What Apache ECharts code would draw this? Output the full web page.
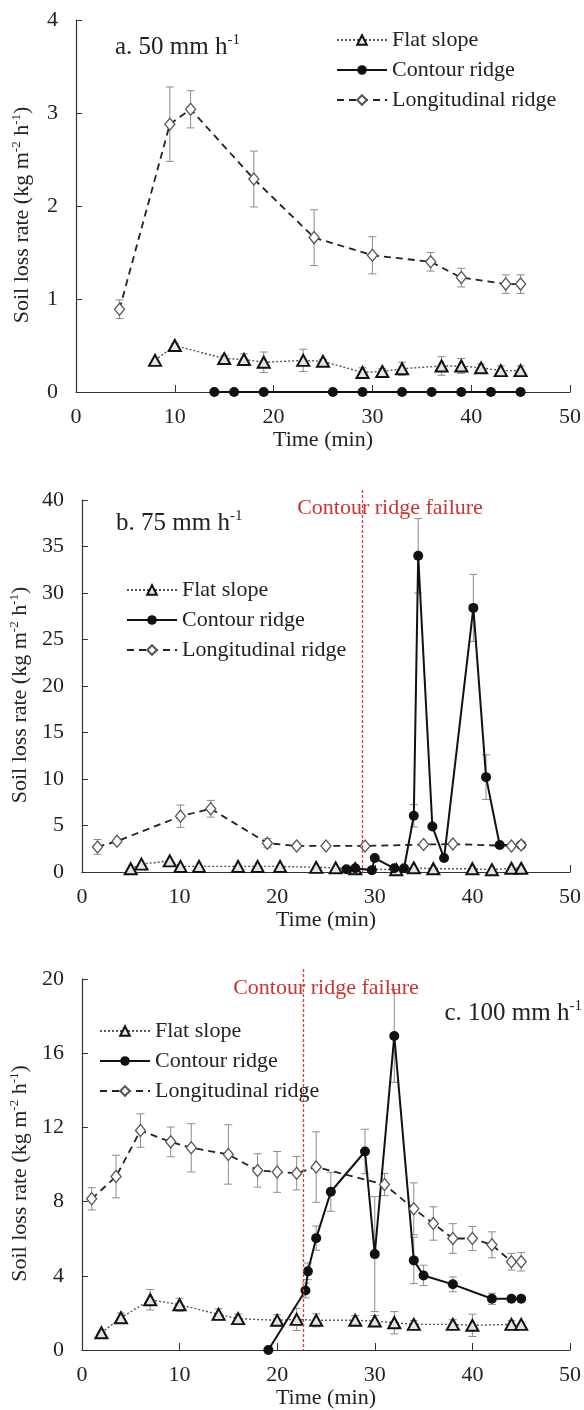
<!DOCTYPE html>
<html><head><meta charset="utf-8">
<script src="https://cdn.jsdelivr.net/npm/echarts@6/dist/echarts.min.js"></script>
<style>html,body{margin:0;padding:0;background:#fff}#c{width:584px;height:1410px}</style>
</head><body><div id="c"></div>
<script>
// ---------- Data ----------
const seriesNames = ['Flat slope', 'Contour ridge', 'Longitudinal ridge'];
const xTicks = [0, 10, 20, 30, 40, 50];

// Panel a (50 mm h-1)
const aFlatX = [8, 10, 15, 17, 19, 23, 25, 29, 31, 33, 37, 39, 41, 43, 45];
const aFlatY = [0.34, 0.50, 0.36, 0.35, 0.32, 0.34, 0.33, 0.21, 0.22, 0.25, 0.28, 0.28, 0.26, 0.23, 0.23];
const aFlatE = [0, 0.02, 0.03, 0.06, 0.11, 0.12, 0.02, 0.05, 0.03, 0.07, 0.10, 0.08, 0.04, 0.05, 0.05];
const aContX = [14, 16, 19, 26, 29, 33, 36, 39, 42, 45];
const aContY = [0, 0, 0, 0, 0, 0, 0, 0, 0, 0];
const aContE = [0, 0, 0, 0, 0, 0, 0, 0, 0, 0];
const aLongX = [4.4, 9.5, 11.6, 18, 24.1, 30, 35.9, 39, 43.5, 45];
const aLongY = [0.89, 2.88, 3.04, 2.29, 1.66, 1.47, 1.40, 1.23, 1.16, 1.16];
const aLongE = [0.10, 0.40, 0.20, 0.30, 0.30, 0.20, 0.10, 0.10, 0.10, 0.10];

// Panel b (75 mm h-1)
const bFlatX = [5, 6.1, 9, 10.1, 12, 16, 18, 20.3, 24, 26, 28, 32.2, 34, 36, 40, 42, 44, 45];
const bFlatY = [0.35, 0.85, 1.2, 0.6, 0.6, 0.6, 0.6, 0.6, 0.5, 0.45, 0.35, 0.25, 0.45, 0.35, 0.35, 0.25, 0.4, 0.4];
const bFlatE = [0, 0, 0, 0, 0, 0, 0, 0, 0, 0, 0, 0, 0, 0, 0, 0, 0, 0];
const bContX = [27.1, 28, 29.7, 30, 32, 33, 34, 34.45, 35.9, 37.1, 40.1, 41.4, 42.8, 45];
const bContY = [0.3, 0.4, 0.2, 1.5, 0.4, 0.4, 6.05, 34.0, 4.9, 1.5, 28.4, 10.2, 2.9, 2.9];
const bContE = [0, 0, 0, 0, 0, 0, 1.2, 4.0, 0, 0, 3.6, 2.4, 0, 0];
const bLongX = [1.6, 3.6, 10.1, 13.2, 19, 22, 25, 29, 35, 38, 44, 45];
const bLongY = [2.7, 3.3, 6.0, 6.8, 3.1, 2.8, 2.8, 2.8, 2.95, 3.0, 2.8, 2.9];
const bLongE = [0.8, 0, 1.2, 0.9, 0.5, 0.3, 0, 0, 0, 0, 0, 0];
const bFailure = 28.7;

// Panel c (100 mm h-1)
const cFlatX = [2, 4, 7, 10, 14, 16, 20, 22, 24, 28, 30, 32, 34, 38, 40, 44, 45];
const cFlatY = [0.93, 1.74, 2.71, 2.44, 1.92, 1.69, 1.6, 1.65, 1.6, 1.6, 1.56, 1.47, 1.38, 1.38, 1.33, 1.38, 1.38];
const cFlatE = [0, 0.25, 0.55, 0.35, 0.3, 0.25, 0.3, 0.6, 0.35, 0.25, 0.3, 0.6, 0.2, 0.25, 0.6, 0.2, 0];
const cContX = [19.1, 22.9, 23.15, 24, 25.5, 29, 30, 32, 34, 35, 38, 42, 44, 45];
const cContY = [0, 3.21, 4.24, 6.03, 8.53, 10.7, 5.17, 16.93, 4.83, 4.02, 3.54, 2.76, 2.76, 2.76];
const cContE = [0, 0.4, 0.45, 0.65, 1.05, 1.2, 3.1, 2.5, 1.25, 0.55, 0.4, 0.3, 0, 0];
const cLongX = [1, 3.5, 6, 9.1, 11.2, 15, 18, 20, 22, 24, 31, 34, 36, 38, 40, 42, 44, 45];
const cLongY = [8.15, 9.35, 11.83, 11.22, 10.9, 10.54, 9.68, 9.6, 9.53, 9.86, 8.92, 7.61, 6.82, 6.01, 6.01, 5.67, 4.76, 4.76];
const cLongE = [0.6, 1.15, 0.9, 0.8, 1.3, 1.6, 0.9, 1.1, 0.9, 1.9, 0.6, 1.4, 0.9, 0.8, 0.65, 0.7, 0.45, 0.5];
const cFailure = 22.7;

const yMaxes = [4, 40, 20];
const yIntervals = [1, 5, 4];

// ---------- Chart ----------
const FONT = 'Liberation Serif';
const zip = (xs, ys) => xs.map((x, i) => [x, ys[i]]);
const errData = (xs, ys, es) => xs.map((x, i) => [x, ys[i] - es[i], ys[i] + es[i], es[i]]).filter(d => d[3] > 0);

const panels = [
  {flat: [aFlatX, aFlatY, aFlatE], cont: [aContX, aContY, aContE], long: [aLongX, aLongY, aLongE], fail: null,
   grid: {left: 76, right: 12, top: 20, height: 372}, legend: {left: 331, top: 24}},
  {flat: [bFlatX, bFlatY, bFlatE], cont: [bContX, bContY, bContE], long: [bLongX, bLongY, bLongE], fail: bFailure,
   grid: {left: 79, right: 9, top: 500, height: 372}, legend: {left: 121, top: 574}},
  {flat: [cFlatX, cFlatY, cFlatE], cont: [cContX, cContY, cContE], long: [cLongX, cLongY, cLongE], fail: cFailure,
   grid: {left: 76, right: 12, top: 979, height: 372}, legend: {left: 94, top: 1015}}
];

const styles = {
  'Flat slope': {symbol: 'triangle', symbolSize: [12, 11], lineStyle: {color: '#555', width: 1.4, type: [2, 2]},
    itemStyle: {color: '#e4e4e4', borderColor: '#111', borderWidth: 2}},
  'Contour ridge': {symbol: 'circle', symbolSize: 10, lineStyle: {color: '#111', width: 2, type: 'solid'},
    itemStyle: {color: '#111', borderColor: '#111', borderWidth: 0}},
  'Longitudinal ridge': {symbol: 'diamond', symbolSize: [10, 12], lineStyle: {color: '#222', width: 1.8, type: [7, 5]},
    itemStyle: {color: '#fff', borderColor: '#555', borderWidth: 1.3}}
};

const grid = [], xAxis = [], yAxis = [], legend = [], series = [];
const axisLine = {show: true, lineStyle: {color: '#333', width: 1.2}};
const rich = {
  n: {fontSize: 22, fontFamily: FONT, color: '#222', lineHeight: 24},
  s: {fontSize: 13, fontFamily: FONT, color: '#222', lineHeight: 24, verticalAlign: 'top'}
};

panels.forEach((p, i) => {
  grid.push(p.grid);
  xAxis.push({type: 'value', gridIndex: i, min: 0, max: 50, interval: 10,
    name: 'Time (min)', nameLocation: 'middle', nameGap: 37,
    nameTextStyle: {fontFamily: FONT, fontSize: 22, color: '#222'},
    axisLine, axisTick: {show: true, inside: true, length: 7, lineStyle: {color: '#333'}},
    axisLabel: {fontFamily: FONT, fontSize: 22, color: '#222', margin: 14},
    splitLine: {show: false}});
  yAxis.push({type: 'value', gridIndex: i, min: 0, max: yMaxes[i], interval: yIntervals[i],
    name: '{n|Soil loss rate (kg m}{s|-2}{n| h}{s|-1}{n|)}', nameLocation: 'middle', nameGap: 42,
    nameTextStyle: {rich, padding: [0, 18, 0, 0]},
    axisLine, axisTick: {show: true, inside: true, length: 6, lineStyle: {color: '#333'}},
    axisLabel: {fontFamily: FONT, fontSize: 22, color: '#222', margin: 18},
    splitLine: {show: false}});
  legend.push({data: seriesNames, orient: 'vertical', left: p.legend.left, top: p.legend.top,
    itemWidth: 50, itemHeight: 12, itemGap: 8, selectedMode: false,
    textStyle: {fontFamily: FONT, fontSize: 22, color: '#222', lineHeight: 22}});

  const groups = [['Flat slope', p.flat], ['Contour ridge', p.cont], ['Longitudinal ridge', p.long]];
  groups.forEach(([name, d]) => {
    const ed = errData(d[0], d[1], d[2]);
    if (ed.length) {
      series.push({type: 'custom', xAxisIndex: i, yAxisIndex: i, silent: true, z: 1, clip: false,
        data: ed, encode: {x: 0, y: [1, 2]},
        renderItem: (params, api) => {
          const x = api.value(0);
          const p1 = api.coord([x, api.value(1)]), p2 = api.coord([x, api.value(2)]);
          const st = {stroke: '#8c8c8c', lineWidth: 1};
          return {type: 'group', children: [
            {type: 'line', shape: {x1: p1[0], y1: p1[1], x2: p2[0], y2: p2[1]}, style: st},
            {type: 'line', shape: {x1: p1[0] - 4, y1: p1[1], x2: p1[0] + 4, y2: p1[1]}, style: st},
            {type: 'line', shape: {x1: p2[0] - 4, y1: p2[1], x2: p2[0] + 4, y2: p2[1]}, style: st}
          ]};
        }});
    }
    const s = Object.assign({type: 'line', name, xAxisIndex: i, yAxisIndex: i, data: zip(d[0], d[1]),
      showAllSymbol: true, z: 3, animation: false}, JSON.parse(JSON.stringify(styles[name])));
    series.push(s);
  });

  if (p.fail !== null) {
    series.push({type: 'custom', xAxisIndex: i, yAxisIndex: i, silent: true, z: 5, clip: false,
      data: [[p.fail, 0, yMaxes[i]]], encode: {x: 0, y: [1, 2]},
      renderItem: (params, api) => {
        const x = api.value(0);
        const top = api.coord([x, api.value(2)]), bot = api.coord([x, api.value(1)]);
        const px = Math.round(top[0]) + 0.5;
        return {type: 'line', shape: {x1: px, y1: top[1] - 10, x2: px, y2: bot[1]},
          style: {stroke: '#e03838', lineWidth: 1.3, lineDash: [3, 2], fill: null}};
      }});
  }
});

const titleRich = {
  t: {fontSize: 25, fontFamily: FONT, fill: '#222', lineHeight: 28},
  s: {fontSize: 15, fontFamily: FONT, fill: '#222', lineHeight: 28, verticalAlign: 'top'}
};
const graphic = [
  {type: 'text', left: 115, top: 33, style: {text: '{t|a. 50 mm h}{s|-1}', rich: titleRich}},
  {type: 'text', left: 116, top: 509, style: {text: '{t|b. 75 mm h}{s|-1}', rich: titleRich}},
  {type: 'text', right: 2, top: 999, style: {text: '{t|c. 100 mm h}{s|-1}', rich: titleRich}},
  {type: 'text', x: 390, y: 508, z: 10, style: {text: 'Contour ridge failure', fill: '#cc3333',
    font: '22px "Liberation Serif"', align: 'center', verticalAlign: 'middle', textAlign: 'center', textVerticalAlign: 'middle'}},
  {type: 'text', x: 326, y: 988, z: 10, style: {text: 'Contour ridge failure', fill: '#cc3333',
    font: '22px "Liberation Serif"', align: 'center', verticalAlign: 'middle', textAlign: 'center', textVerticalAlign: 'middle'}}
];

const chart = echarts.init(document.getElementById('c'), null, {renderer: 'canvas'});
chart.setOption({animation: false, backgroundColor: '#fff', textStyle: {fontFamily: FONT},
  grid, xAxis, yAxis, legend, series, graphic});
</script></body></html>
